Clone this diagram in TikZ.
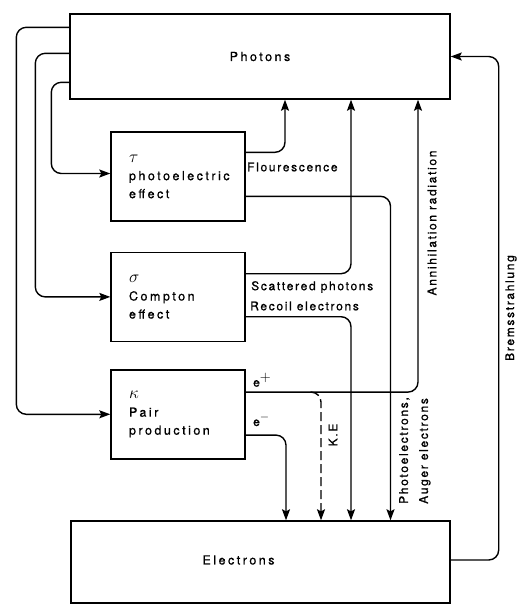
\documentclass[tikz,border=0pt]{standalone}
\usepackage{fontspec}
\setmainfont{TeX Gyre Heros}
\newfontfamily\boxfont{TeX Gyre Heros}[LetterSpace=20,FakeBold=0.8]
\newfontfamily\lblfont{TeX Gyre Heros}[LetterSpace=14,FakeBold=0.8]
\newcommand{\greekmark}[1]{{\fontsize{17}{18}\selectfont$#1$}}
\usetikzlibrary{arrows.meta,positioning}

\begin{document}
\begin{tikzpicture}[x=1pt, y=-1pt,
    box/.style={draw, line width=1.4pt, inner sep=0pt, font=\boxfont\fontsize{12.5}{18}\selectfont},
    proc/.style={box, minimum width=134pt, minimum height=89pt, text width=98pt, align=left},
    flow/.style={line width=1.4pt, rounded corners=10pt, -{Stealth[length=11pt,width=8pt,inset=2pt]}},
    lbl/.style={inner sep=0pt, font=\lblfont\fontsize{12}{20}\selectfont},
    ]
  \useasboundingbox (0,0) rectangle (528,616);

  \node[box, minimum width=380pt, minimum height=85pt] (photons) at (260,56.5) {Photons};
  \node[proc] (photo) at (178,176.5) {\greekmark{\tau}\\photoelectric\\effect};
  \node[proc, below=30pt of photo] (compton) {\greekmark{\sigma}\\Compton\\effect};
  \node[proc, below=27pt of compton] (pair) {\greekmark{\kappa}\\Pair\\production};
  \node[box, minimum width=379pt, minimum height=82pt,
        label={[font=\boxfont\fontsize{12.5}{18}\selectfont, xshift=-22pt, yshift=2pt]center:Electrons}]
        (electrons) at (260.5,562) {};

  % photons feeding the three processes
  \draw[flow] ([yshift=-14pt]photons.north west) -| ([xshift=-94pt]pair.west) -- (pair.west);
  \draw[flow] ([yshift=-40pt]photons.north west) -| ([xshift=-75pt]compton.west) -- (compton.west);
  \draw[flow] ([yshift=-69pt]photons.north west) -| ([xshift=-59pt,yshift=3pt]photo.west) -- ([yshift=3pt]photo.west);

  % products of the processes
  \draw[flow] ([yshift=-21pt]photo.north east) -| ([xshift=25pt]photons.south);
  \draw[flow] ([yshift=-65pt]photo.north east) -| ([xshift=130pt]electrons.north);
  \draw[flow] ([yshift=-22pt]compton.north east) -| ([xshift=91pt]photons.south);
  \draw[flow] ([yshift=-65pt]compton.north east) -| ([xshift=90.5pt]electrons.north);
  \draw[flow] ([yshift=-23pt]pair.north east) -| ([xshift=158pt]photons.south);
  \draw[flow] ([yshift=-66pt]pair.north east) -| ([xshift=25.5pt]electrons.north);
  \coordinate (ke) at ([xshift=65pt,yshift=-23pt]pair.north east);
  \draw[flow, dash pattern=on 9pt off 4pt] (ke) -| ([xshift=60.5pt]electrons.north);
  \draw[flow] ([yshift=2pt]electrons.east) -| ([xshift=48pt]photons.east) -- (photons.east);

  \node[lbl, anchor=west] (fluo) at (247,167) {Flourescence};
  \node[lbl, anchor=west] (scat) at (251,287) {Scattered photons};
  \node[lbl, anchor=west] (recoil) at (250,306) {Recoil electrons};
  \node[lbl, anchor=west] (eplus) at (253,380) {e\raisebox{5pt}{\fontsize{15}{15}\selectfont$+$}};
  \node[lbl, anchor=west] (eminus) at (253,420) {e\raisebox{5pt}{$-$}};
  \node[lbl, rotate=90] (ketxt) at (333,435) {K.E};
  \node[lbl, rotate=90, anchor=north west, align=left] (pelec) at (399,504) {Photoelectrons,\\Auger electrons};
  \node[lbl, rotate=90] (annih) at (432,223) {Annihilation radiation};
  \node[lbl, rotate=90] (brems) at (511,308) {Bremsstrahlung};
\end{tikzpicture}
\end{document}
